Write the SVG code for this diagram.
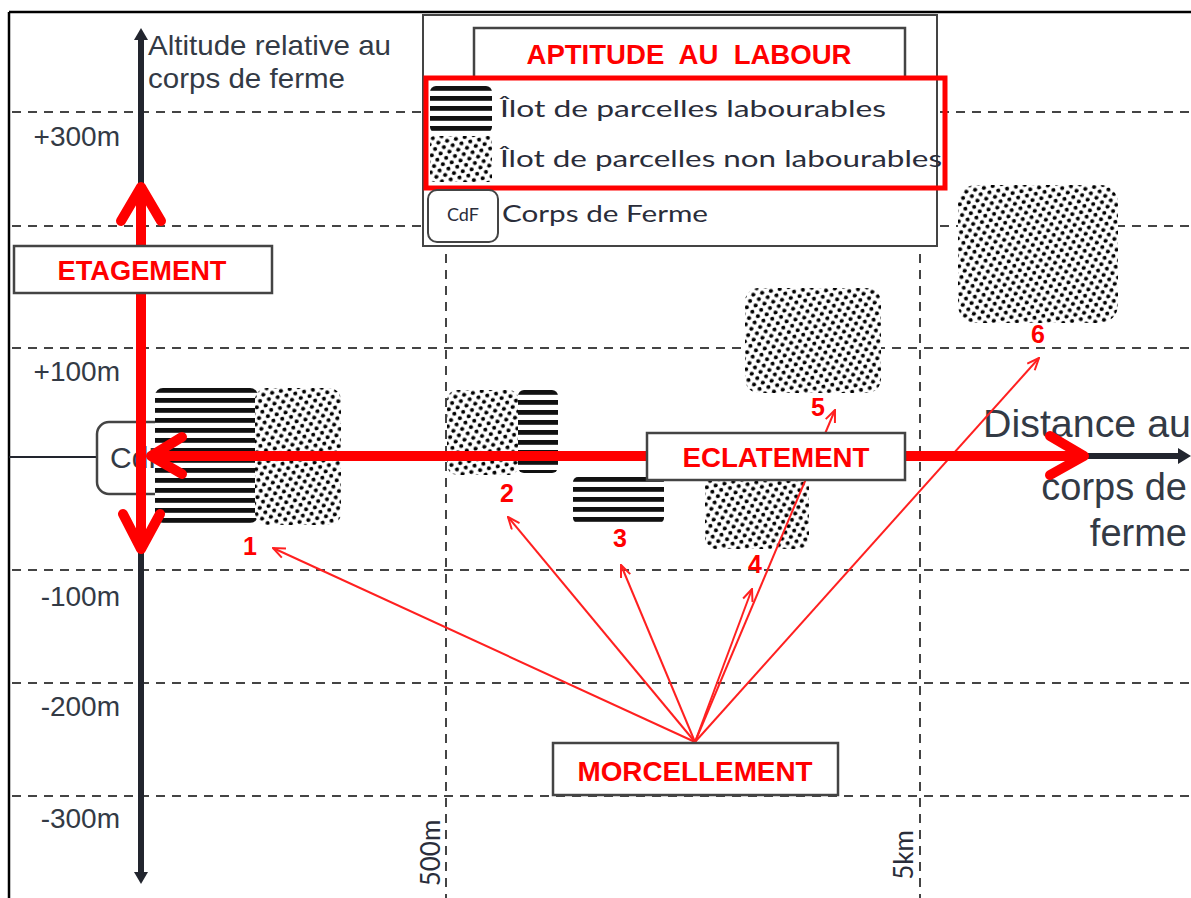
<svg xmlns="http://www.w3.org/2000/svg" width="1191" height="898" viewBox="0 0 1191 898">
<style>
.grid{stroke:#444;stroke-width:2;stroke-dasharray:9 7;fill:none}
.box{fill:#fff;stroke:#444;stroke-width:2.5}
.lbl{font-family:"Liberation Sans",Arial,sans-serif;font-size:28px;fill:#333a45}
.big{font-size:38px}
.leg{font-family:Lato,"Liberation Sans",sans-serif;font-size:24px;fill:#2a2d3a}
.tick{font-size:26px}
.red{font-family:"Liberation Sans",Arial,sans-serif;font-weight:bold;font-size:28px;fill:#ff0000;text-anchor:middle}
.num{font-family:"Liberation Sans",Arial,sans-serif;font-weight:bold;font-size:25px;fill:#ff0000;text-anchor:middle}
.thick{stroke:#ff0000;stroke-width:10;fill:none;stroke-linecap:round;stroke-linejoin:round}
.thin{stroke:#ff2020;stroke-width:2;fill:none}
.dots{fill:url(#dots)}
.stripes{fill:url(#stripes)}
</style>
<defs>
<pattern id="dots" patternUnits="userSpaceOnUse" width="9" height="11" patternTransform="rotate(-12)">
<rect width="9" height="11" fill="#fff"/>
<circle cx="2.25" cy="2.75" r="2.05" fill="#000"/>
<circle cx="6.75" cy="8.25" r="2.05" fill="#000"/>
</pattern>
<pattern id="stripes" patternUnits="userSpaceOnUse" width="10" height="10">
<rect width="10" height="10" fill="#fff"/>
<rect y="0" width="10" height="4.8" fill="#111"/>
</pattern>
<marker id="ah" viewBox="0 0 14 12" refX="13" refY="6" markerWidth="14" markerHeight="12" markerUnits="userSpaceOnUse" orient="auto">
<path d="M1,1 L13,6 L1,11" fill="none" stroke="#ff2020" stroke-width="2"/>
</marker>
</defs>

<g id="frame">
<line x1="9" y1="12" x2="1191" y2="12" stroke="#000" stroke-width="2.5"/>
<line x1="9" y1="12" x2="9" y2="898" stroke="#000" stroke-width="2.5"/>
</g>

<g id="grid">
<line class="grid" x1="12" y1="112" x2="1191" y2="112"/>
<line class="grid" x1="12" y1="226" x2="1191" y2="226"/>
<line class="grid" x1="12" y1="348" x2="1191" y2="348"/>
<line class="grid" x1="12" y1="570" x2="1191" y2="570"/>
<line class="grid" x1="12" y1="683" x2="1191" y2="683"/>
<line class="grid" x1="12" y1="796" x2="1191" y2="796"/>
<line class="grid" x1="446" y1="14" x2="446" y2="898"/>
<line class="grid" x1="920" y1="14" x2="920" y2="898"/>
</g>

<g id="axis-labels">
<text class="lbl" x="148" y="55" textLength="243" lengthAdjust="spacingAndGlyphs">Altitude relative au</text>
<text class="lbl" x="148" y="88" textLength="197" lengthAdjust="spacingAndGlyphs">corps de ferme</text>
<text class="lbl" x="120" y="146" text-anchor="end">+300m</text>
<text class="lbl" x="120" y="264" text-anchor="end">+200m</text>
<text class="lbl" x="120" y="381" text-anchor="end">+100m</text>
<text class="lbl" x="120" y="606" text-anchor="end">-100m</text>
<text class="lbl" x="120" y="716" text-anchor="end">-200m</text>
<text class="lbl" x="120" y="828" text-anchor="end">-300m</text>
<text class="leg tick" transform="translate(440,853) rotate(-90)" text-anchor="middle">500m</text>
<text class="leg tick" transform="translate(913,855) rotate(-90)" text-anchor="middle">5km</text>
<text class="lbl big" x="983" y="437" textLength="208" lengthAdjust="spacingAndGlyphs">Distance au</text>
<text class="lbl big" x="1187" y="500" text-anchor="end">corps de</text>
<text class="lbl big" x="1187" y="546" text-anchor="end">ferme</text>
</g>

<g id="axes">
<line x1="141" y1="38" x2="141" y2="876" stroke="#22252e" stroke-width="6"/>
<path d="M141,28 L148,40 L134,40 Z" fill="#22252e"/>
<path d="M141,884 L148,872 L134,872 Z" fill="#22252e"/>
<line x1="9" y1="457" x2="97" y2="457" stroke="#22252e" stroke-width="2"/>
<line x1="187" y1="456" x2="1180" y2="456" stroke="#22252e" stroke-width="6"/>
<path d="M1191,456 L1178,448 L1178,464 Z" fill="#22252e"/>
</g>

<g id="legend">
<rect x="423" y="15" width="514" height="231" fill="#fff" stroke="#444" stroke-width="2"/>
<rect class="box" x="474" y="28" width="431" height="50"/>
<text class="red" x="689" y="64" xml:space="preserve" textLength="325" lengthAdjust="spacingAndGlyphs">APTITUDE  AU  LABOUR</text>
<g transform="translate(430,86)"><rect class="stripes" width="62" height="47" rx="6"/></g>
<g transform="translate(430,136)"><rect class="dots" width="62" height="46" rx="4"/></g>
<text class="leg" x="500" y="117" textLength="386" lengthAdjust="spacingAndGlyphs">Îlot de parcelles labourables</text>
<text class="leg" x="500" y="167" textLength="442" lengthAdjust="spacingAndGlyphs">Îlot de parcelles non labourables</text>
<rect x="426" y="78" width="519" height="110" fill="none" stroke="#ff0000" stroke-width="5"/>
<rect x="428" y="190" width="70" height="52" rx="9" fill="#fff" stroke="#444" stroke-width="2"/>
<text class="leg" x="463" y="221" text-anchor="middle" style="font-size:18px">CdF</text>
<text class="leg" x="502" y="222" textLength="206" lengthAdjust="spacingAndGlyphs">Corps de Ferme</text>
</g>

<g id="cdf">
<rect class="box" x="97" y="422" width="90" height="72" rx="12"/>
<text class="lbl" x="110" y="468" style="font-size:30px">CdF</text>
</g>

<g id="ilot1">
<g transform="translate(155,388)"><rect class="stripes" width="103" height="135" rx="8"/></g>
<g transform="translate(255,388)"><rect class="dots" width="86" height="137" rx="12"/></g>
</g>
<g id="ilot2">
<g transform="translate(447,390)"><rect class="dots" width="72" height="85" rx="10"/></g>
<g transform="translate(518,390)"><rect class="stripes" width="40" height="83" rx="6"/></g>
</g>
<g id="ilot3">
<g transform="translate(573,477)"><rect class="stripes" width="91" height="46" rx="5"/></g>
</g>
<g id="ilot4">
<g transform="translate(705,468)"><rect class="dots" width="104" height="81" rx="10"/></g>
</g>
<g id="ilot5">
<g transform="translate(745,288)"><rect class="dots" width="136" height="105" rx="14"/></g>
</g>
<g id="ilot6">
<g transform="translate(958,185)"><rect class="dots" width="160" height="138" rx="18"/></g>
</g>

<g id="connectors">
<line class="thin" x1="695" y1="742" x2="273" y2="548" marker-end="url(#ah)"/>
<line class="thin" x1="695" y1="742" x2="508" y2="517" marker-end="url(#ah)"/>
<line class="thin" x1="695" y1="742" x2="621" y2="565" marker-end="url(#ah)"/>
<line class="thin" x1="695" y1="742" x2="752" y2="589" marker-end="url(#ah)"/>
<line class="thin" x1="695" y1="742" x2="835" y2="410" marker-end="url(#ah)"/>
<line class="thin" x1="695" y1="742" x2="1039" y2="358" marker-end="url(#ah)"/>
<line class="thick" x1="152" y1="456" x2="1083" y2="456"/>
<polyline class="thick" points="182,437 151,456 182,474"/>
<polyline class="thick" points="1050,436 1084,456 1050,475"/>
<line class="thick" x1="141" y1="188" x2="141" y2="548"/>
<polyline class="thick" points="121,221 141,187 161,221"/>
<polyline class="thick" points="123,514 141,549 160,514"/>
</g>

<g id="eclatement">
<rect class="box" x="647" y="433" width="258" height="47"/>
<text class="red" x="776" y="467" textLength="187" lengthAdjust="spacingAndGlyphs">ECLATEMENT</text>
</g>
<g id="etagement">
<rect class="box" x="14" y="246" width="258" height="47"/>
<text class="red" x="142" y="280" textLength="169" lengthAdjust="spacingAndGlyphs">ETAGEMENT</text>
</g>
<g id="morcellement">
<rect class="box" x="553" y="743" width="285" height="52"/>
<text class="red" x="695" y="781" textLength="235" lengthAdjust="spacingAndGlyphs">MORCELLEMENT</text>
</g>

<g id="numbers">
<text class="num" x="250" y="555">1</text>
<text class="num" x="507" y="502">2</text>
<text class="num" x="620" y="547">3</text>
<text class="num" x="755" y="573">4</text>
<text class="num" x="818" y="416">5</text>
<text class="num" x="1038" y="343">6</text>
</g>
</svg>
